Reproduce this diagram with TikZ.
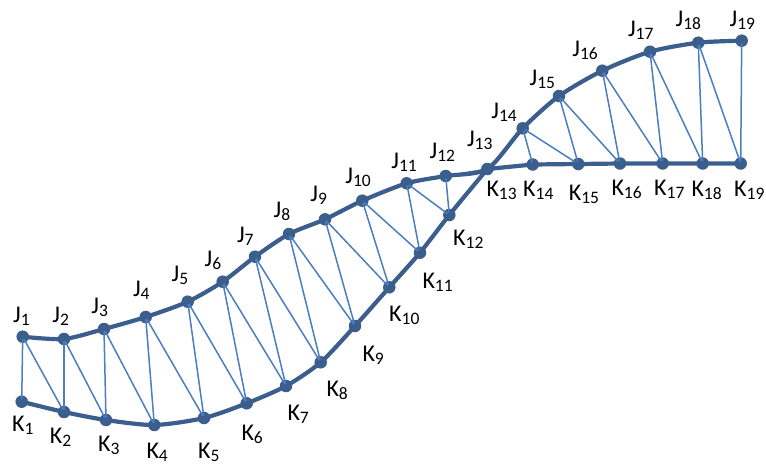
\documentclass[tikz,border=0pt]{standalone}
\usepackage{fontspec}
\setmainfont{Carlito}
\definecolor{rail}{RGB}{59,94,140}
\definecolor{strut}{RGB}{74,126,190}
\newcommand{\vlab}[2]{#1\raisebox{-3pt}{\fontsize{17.5}{17.5}\selectfont #2}}
\tikzstyle{joint} = [circle, fill=rail, minimum size=12.5pt, inner sep=0pt]
\tikzstyle{tag} = [anchor=base west, inner sep=0pt, font=\fontsize{24}{24}\selectfont]
\tikzstyle{rail} = [draw=rail, line width=4.2pt, line join=round, line cap=round]
\tikzstyle{strut} = [draw=strut, line width=1.5pt]

\begin{document}
\begin{tikzpicture}[x=1pt, y=1pt]
\useasboundingbox (0,0) rectangle (766,-469);
% upper chord
\node[joint] (J1)  at (22.7,-336.7) {};
\node[joint] (J2)  at (64,-339) {};
\node[joint] (J3)  at (104,-329) {};
\node[joint] (J4)  at (145.7,-317) {};
\node[joint] (J5)  at (187.7,-301.7) {};
\node[joint] (J6)  at (222.7,-281.7) {};
\node[joint] (J7)  at (255,-256.7) {};
\node[joint] (J8)  at (289,-234) {};
\node[joint] (J9)  at (325,-219.3) {};
\node[joint] (J10) at (362.3,-200.7) {};
\node[joint] (J11) at (406.7,-183.3) {};
\node[joint] (J12) at (445.7,-176) {};
\node[joint] (J13) at (487.3,-169) {};
\node[joint] (J14) at (522.7,-128.3) {};
\node[joint] (J15) at (559,-96) {};
\node[joint] (J16) at (602.3,-70.7) {};
\node[joint] (J17) at (650,-51.7) {};
\node[joint] (J18) at (698.3,-42.7) {};
\node[joint] (J19) at (741.7,-40.7) {};
% lower chord
\node[joint] (K1)  at (21.7,-401.7) {};
\node[joint] (K2)  at (64,-412) {};
\node[joint] (K3)  at (106,-420) {};
\node[joint] (K4)  at (154.3,-425) {};
\node[joint] (K5)  at (204,-418) {};
\node[joint] (K6)  at (246.7,-403.3) {};
\node[joint] (K7)  at (286,-386) {};
\node[joint] (K8)  at (320.7,-362.3) {};
\node[joint] (K9)  at (355,-326) {};
\node[joint] (K10) at (389.3,-287.3) {};
\node[joint] (K11) at (420,-252.7) {};
\node[joint] (K12) at (449.3,-215) {};
\coordinate (K13) at (J13);
\node[joint] (K14) at (532.7,-164.5) {};
\node[joint] (K15) at (578.3,-164) {};
\node[joint] (K16) at (620,-163.5) {};
\node[joint] (K17) at (662.7,-163.5) {};
\node[joint] (K18) at (702.7,-163.5) {};
\node[joint] (K19) at (740.7,-163.5) {};

% web members
\foreach \i in {1,...,12,14,15,16,17,18,19}
    \draw[strut] (J\i.center) -- (K\i.center);
\foreach \i [evaluate=\i as \j using int(\i+1)] in {1,...,12,14,15,16,17,18}
    \draw[strut] (J\i.center) -- (K\j.center);

% chords
\draw[rail] plot[smooth, tension=0.45] coordinates {(J1.center) (J2.center) (J3.center)
    (J4.center) (J5.center) (J6.center) (J7.center) (J8.center) (J9.center) (J10.center)
    (J11.center) (J12.center) (J13.center) (J14.center) (J15.center) (J16.center)
    (J17.center) (J18.center) (J19.center)};
\draw[rail] plot[smooth, tension=0.45] coordinates {(K1.center) (K2.center) (K3.center)
    (K4.center) (K5.center) (K6.center) (K7.center) (K8.center) (K9.center) (K10.center)
    (K11.center) (K12.center) (J13.center)};
\draw[rail] (J13.center) -- (K14.center) -- (K15.center) -- (K16.center)
    -- (K17.center) -- (K18.center) -- (K19.center);

% joint names
\foreach \l/\i/\x/\y in {J/1/13/322.5, J/2/52.2/322, J/3/91.2/313.3, J/4/132.8/296.7,
    J/5/171.5/281, J/6/204.5/266.7, J/7/236.8/242.3, J/8/273.5/217.7, J/9/310.2/201,
    J/10/345.2/183.3, J/11/391.2/168.3, J/12/429.5/158.3, J/13/466.8/146.7,
    J/14/491.2/118.3, J/15/529.5/85, J/16/572.2/56.7, J/17/627.8/36.7,
    J/18/675.5/26.7, J/19/729.5/26.7,
    K/1/12/431.7, K/2/49.7/443.3, K/3/98/451.7, K/4/146.3/458, K/5/198/458.3,
    K/6/241.3/440, K/7/287.3/420, K/8/326.3/396.7, K/9/362.3/361.7, K/10/389/321.7,
    K/11/422.3/288.3, K/12/453/245, K/13/486.3/196.7, K/14/523/196.7,
    K/15/568.7/200, K/16/611.3/195, K/17/654/195, K/18/691.3/196.7, K/19/734/196.7}
    \node[tag] (tag\l\i) at (\x,-\y) {\vlab{\l}{\i}};
\end{tikzpicture}
\end{document}
